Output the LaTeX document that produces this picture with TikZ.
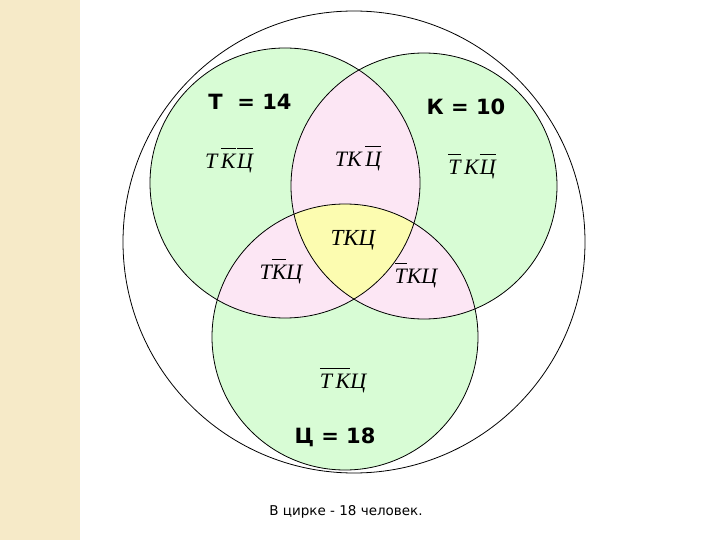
\documentclass[tikz,border=0pt]{standalone}
\usepackage{fontspec}
\setmainfont{Liberation Serif}
\newfontfamily\lblfont{DejaVu Sans}
\newfontfamily\capfont{DejaVu Sans}
\definecolor{vgreen}{HTML}{D8FCD5}
\definecolor{vpink}{HTML}{FCE6F4}
\definecolor{vyellow}{HTML}{FCFCB0}
\definecolor{strip}{HTML}{F6EAC8}
\tikzset{
  setlabel/.style={font=\lblfont\bfseries\fontsize{21}{24}\selectfont},
  reglabel/.style={font=\itshape\fontsize{22}{24}\selectfont},
  ring/.style={draw=black, line width=0.8pt}
}
\newcommand{\ob}[1]{$\overline{\mbox{\rule{0pt}{0.86em}#1}}$}
\begin{document}
\begin{tikzpicture}[x=1pt,y=-1pt]
\useasboundingbox (0,0) rectangle (720,540);
\fill[white] (0,0) rectangle (720,540);
\fill[strip] (0,0) rectangle (80,540);
% circles
\coordinate (cT) at (285,183);
\coordinate (cK) at (424,186);
\coordinate (cC) at (345,337);
\coordinate (cO) at (354,242);
\fill[vgreen] (cT) circle (135);
\fill[vgreen] (cK) circle (133);
\fill[vgreen] (cC) circle (133);
\begin{scope}
  \clip (cT) circle (135);
  \fill[vpink] (cK) circle (133);
  \fill[vpink] (cC) circle (133);
\end{scope}
\begin{scope}
  \clip (cK) circle (133);
  \fill[vpink] (cC) circle (133);
\end{scope}
\begin{scope}
  \clip (cT) circle (135);
  \clip (cK) circle (133);
  \fill[vyellow] (cC) circle (133);
\end{scope}
\draw[ring] (cO) circle (231);
\draw[ring] (cT) circle (135);
\draw[ring] (cK) circle (133);
\draw[ring] (cC) circle (133);
% set labels
\node[setlabel] (lT) at (250,102) {Т\ \ = 14};
\node[setlabel] (lK) at (466,107) {К = 10};
\node[setlabel] (lC) at (335,437) {Ц = 18};
% region labels
\node[reglabel] (r1) at (229,160) {Т\,\ob{К}\hspace{1.5pt}\ob{Ц}};
\node[reglabel] (r2) at (358,158) {ТК\,\ob{Ц}};
\node[reglabel] (r3) at (472,166) {\ob{Т}\,К\hspace{1pt}\ob{Ц}};
\node[reglabel] (r4) at (281,271) {Т\ob{К}Ц};
\node[reglabel] (r5) at (416,275) {\ob{Т}КЦ};
\node[reglabel] (r6) at (343,380) {\ob{Т\,К}Ц};
\node[font=\itshape\fontsize{23}{25}\selectfont] (r7) at (353,240) {ТКЦ};
% caption
\node[font=\capfont\fontsize{13.5}{15}\selectfont] (cap) at (346,512) {В цирке - 18 человек.};
\end{tikzpicture}
\end{document}
